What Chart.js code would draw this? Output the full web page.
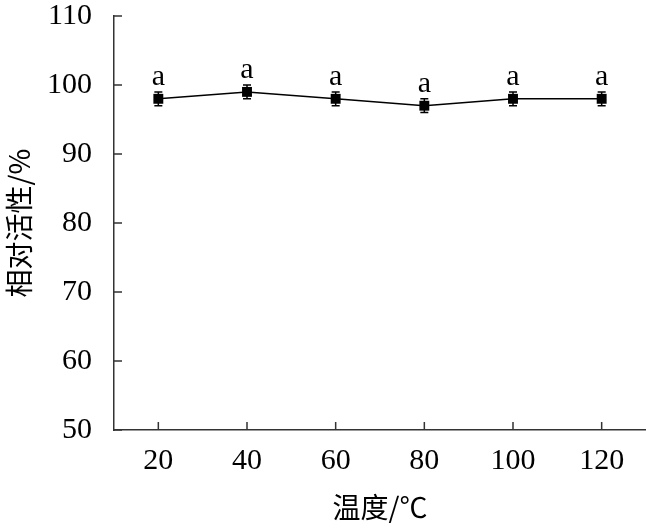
<!DOCTYPE html>
<html lang="zh">
<head>
    <meta charset="UTF-8">
    <title>温度对相对活性的影响</title>
    <script src="https://cdn.jsdelivr.net/npm/chart.js@4/dist/chart.umd.min.js"></script>
    <style>
        body { margin: 0; background: #fff; }
        canvas { display: block; }
    </style>
</head>
<body>
    <canvas id="tempChart" width="646" height="530"></canvas>
    <script>
// data
var temps = ['20', '40', '60', '80', '100', '120'];
var activity = [98, 99, 98, 97, 98, 98];
var errors = [1, 1, 1, 1, 1, 1];
var letters = ['a', 'a', 'a', 'a', 'a', 'a'];
var yTicks = [50, 60, 70, 80, 90, 100, 110];

var serif = "'Liberation Serif', 'DejaVu Serif', serif";
var cjk = "'Noto Sans CJK SC', sans-serif";
var axisColor = '#333';

// inward tick marks, error bars and letters
var extras = {
    id: 'extras',
    afterDraw: function (chart) {
        var ctx = chart.ctx;
        var xs = chart.scales.x, ys = chart.scales.y;
        var area = chart.chartArea;
        ctx.save();
        ctx.strokeStyle = axisColor;
        ctx.lineWidth = 1.5;
        ctx.beginPath();
        yTicks.forEach(function (v) {
            var py = ys.getPixelForValue(v);
            ctx.moveTo(area.left, py);
            ctx.lineTo(area.left + 8, py);
        });
        temps.forEach(function (t, i) {
            var px = xs.getPixelForValue(i);
            ctx.moveTo(px, area.bottom);
            ctx.lineTo(px, area.bottom - 8);
        });
        ctx.stroke();

        var meta = chart.getDatasetMeta(0);
        ctx.strokeStyle = '#000';
        ctx.lineWidth = 1.5;
        meta.data.forEach(function (pt, i) {
            var top = ys.getPixelForValue(activity[i] + errors[i]);
            var bot = ys.getPixelForValue(activity[i] - errors[i]);
            ctx.beginPath();
            ctx.moveTo(pt.x, top); ctx.lineTo(pt.x, bot);
            ctx.moveTo(pt.x - 4, top); ctx.lineTo(pt.x + 4, top);
            ctx.moveTo(pt.x - 4, bot); ctx.lineTo(pt.x + 4, bot);
            ctx.stroke();
        });

        ctx.fillStyle = '#000';
        ctx.font = '30px ' + serif;
        ctx.textAlign = 'center';
        ctx.textBaseline = 'middle';
        meta.data.forEach(function (pt, i) {
            ctx.fillText(letters[i], pt.x, pt.y - 22);
        });
        ctx.restore();
    }
};

var ctx = document.getElementById('tempChart').getContext('2d');
var tempChart = new Chart(ctx, {
    type: 'line',
    data: {
        labels: temps,
        datasets: [
            {
                data: activity,
                borderColor: '#000',
                borderWidth: 1.5,
                backgroundColor: '#000',
                pointStyle: 'rect',
                pointRadius: 7,
                pointBorderWidth: 0,
                fill: false,
                tension: 0
            }
        ]
    },
    options: {
        responsive: false,
        animation: false,
        layout: { autoPadding: false, padding: { top: 16, right: 0, left: 0, bottom: 0 } },
        plugins: {
            legend: { display: false },
            tooltip: { enabled: false }
        },
        scales: {
            x: {
                offset: true,
                grid: { display: false, drawTicks: false, offset: false },
                border: { display: true, color: axisColor, width: 1.5 },
                ticks: {
                    color: '#000',
                    padding: 16,
                    font: { family: serif, size: 30, lineHeight: 1 },
                    maxRotation: 0
                },
                title: {
                    display: true,
                    text: '温度/℃',
                    color: '#000',
                    font: { family: cjk, size: 28, lineHeight: 1.2 },
                    padding: { top: 0, bottom: 6 }
                },
                afterFit: function (scale) {
                    scale.height = 100;
                    scale.paddingLeft = 0;
                    scale.paddingRight = 0;
                }
            },
            y: {
                min: 50,
                max: 110,
                grid: { display: false, drawTicks: false },
                border: { display: true, color: axisColor, width: 1.5 },
                ticks: {
                    stepSize: 10,
                    color: '#000',
                    padding: 22,
                    font: { family: serif, size: 30, lineHeight: 1 }
                },
                title: {
                    display: true,
                    text: '相对活性/%',
                    color: '#000',
                    font: { family: cjk, size: 28, lineHeight: 1.2 },
                    padding: { top: 3, bottom: 0 }
                },
                afterFit: function (scale) {
                    scale.width = 114;
                    scale.paddingTop = 0;
                    scale.paddingBottom = 0;
                }
            }
        }
    },
    plugins: [extras]
});
    </script>
</body>
</html>
